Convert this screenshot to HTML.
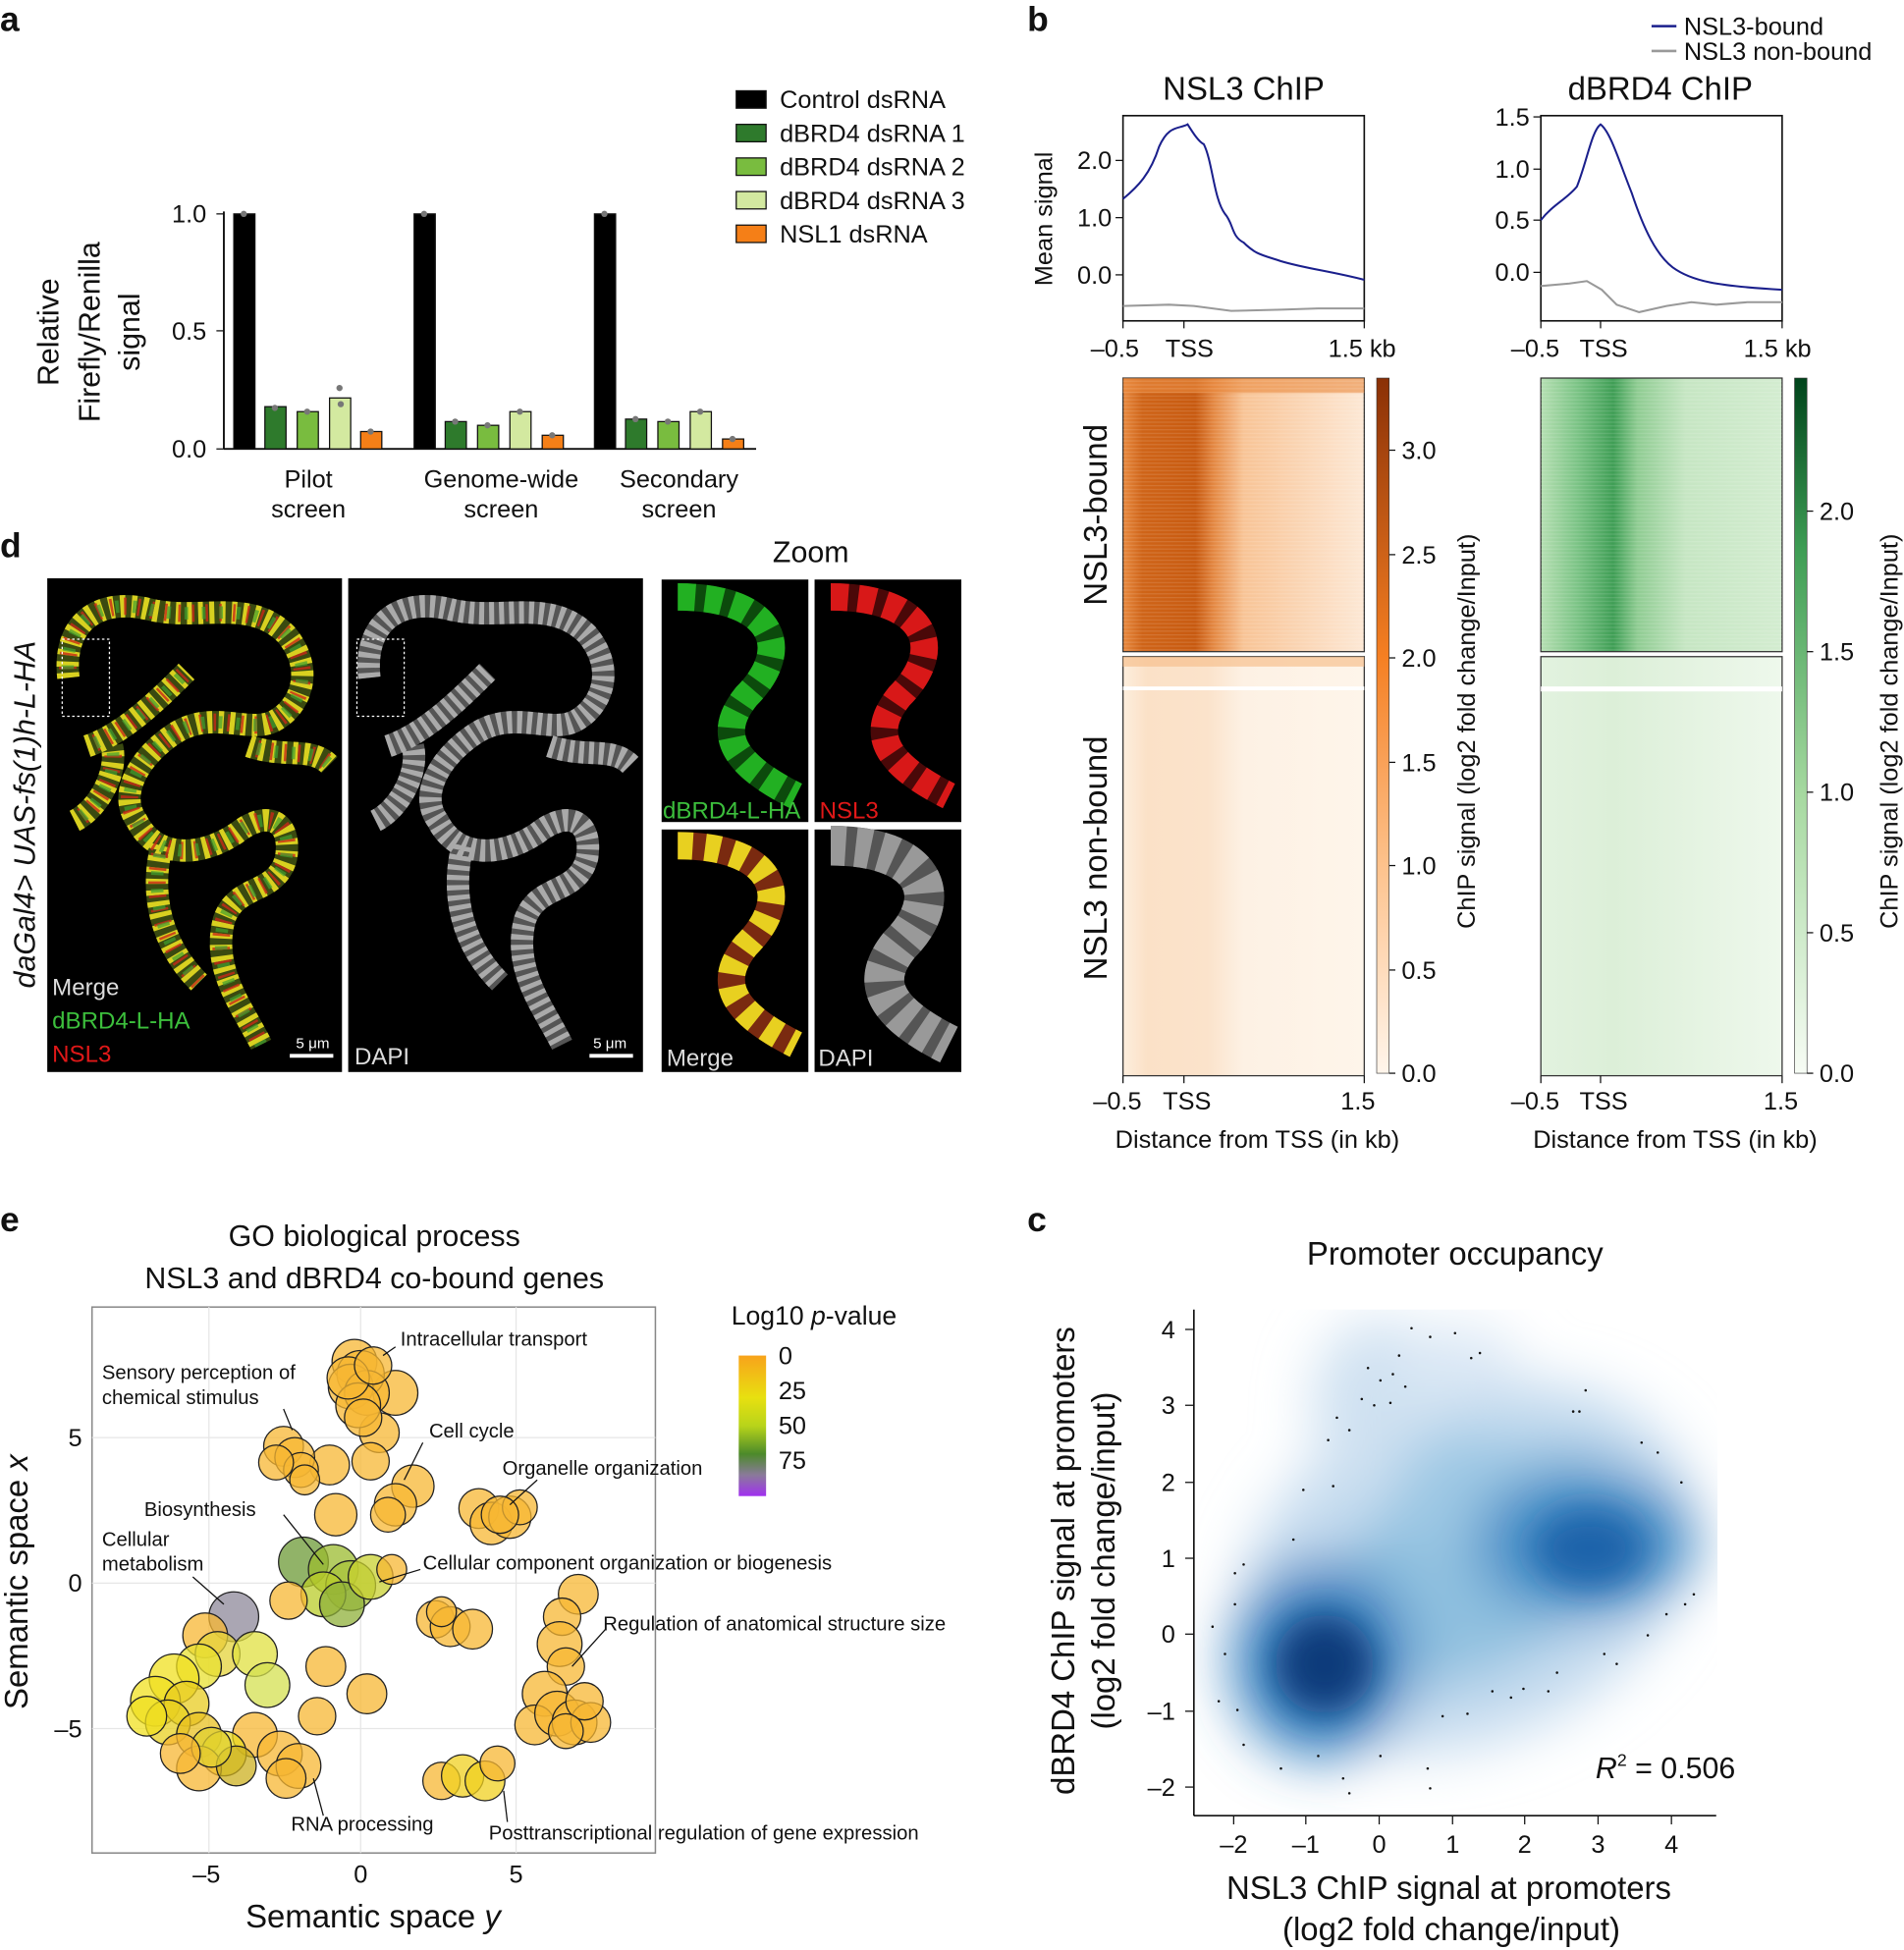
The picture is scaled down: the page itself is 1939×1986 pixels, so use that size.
<!DOCTYPE html>
<html><head><meta charset="utf-8"><style>
html,body{margin:0;padding:0;background:#fff}
svg{display:block}
text{font-family:"Liberation Sans",Arial,sans-serif;fill:#111}
</style></head><body>
<svg width="1939" height="1986" viewBox="0 0 1531 1568" preserveAspectRatio="none" xmlns="http://www.w3.org/2000/svg">
<defs>
<path id="chrA" d="M55,545 C50,500 80,480 120,490 C160,500 200,480 230,510 C255,540 240,570 220,580 C200,590 170,570 140,590 C110,610 95,640 110,660 C125,690 160,690 190,670 C215,650 235,660 230,690 C222,720 190,710 180,740 C170,780 195,810 210,840 M70,600 C100,590 130,560 150,540 M60,660 C80,650 95,620 90,600 M130,680 C120,720 130,760 160,790 M200,600 C230,610 250,600 265,615"/>
<path id="zp" d="M13,14 C88,14 108,54 68,94 C48,119 48,144 108,174"/>
<linearGradient id="orTop" x1="0" x2="1" y1="0" y2="0">
<stop offset="0" stop-color="#e88a40"/><stop offset="0.08" stop-color="#cf6418"/><stop offset="0.3" stop-color="#c85a10"/><stop offset="0.38" stop-color="#e58a45"/><stop offset="0.5" stop-color="#f8c496"/><stop offset="1" stop-color="#fde8d5"/></linearGradient>
<linearGradient id="orBot" x1="0" x2="1" y1="0" y2="0">
<stop offset="0" stop-color="#fdeedd"/><stop offset="0.1" stop-color="#fbe1c7"/><stop offset="0.35" stop-color="#fbe3cb"/><stop offset="0.5" stop-color="#fdf1e4"/><stop offset="1" stop-color="#fef5ea"/></linearGradient>
<linearGradient id="grTop" x1="0" x2="1" y1="0" y2="0">
<stop offset="0" stop-color="#b5dfb2"/><stop offset="0.15" stop-color="#7cc486"/><stop offset="0.3" stop-color="#3f9e55"/><stop offset="0.4" stop-color="#8fcc92"/><stop offset="0.6" stop-color="#c6e6c3"/><stop offset="1" stop-color="#d3ecd0"/></linearGradient>
<linearGradient id="grBot" x1="0" x2="1" y1="0" y2="0">
<stop offset="0" stop-color="#e2f2df"/><stop offset="0.3" stop-color="#dcefd8"/><stop offset="1" stop-color="#eef8ec"/></linearGradient>
<linearGradient id="orBar" x1="0" x2="0" y1="1" y2="0">
<stop offset="0" stop-color="#fff5eb"/><stop offset="0.3" stop-color="#fdc28c"/><stop offset="0.6" stop-color="#f57f22"/><stop offset="1" stop-color="#8a3006"/></linearGradient>
<linearGradient id="grBar" x1="0" x2="0" y1="1" y2="0">
<stop offset="0" stop-color="#f7fcf5"/><stop offset="0.4" stop-color="#a6d9a0"/><stop offset="0.75" stop-color="#3f9e55"/><stop offset="1" stop-color="#00441b"/></linearGradient>
<linearGradient id="pBar" x1="0" x2="0" y1="0" y2="1">
<stop offset="0" stop-color="#f8a31b"/><stop offset="0.3" stop-color="#e8e010"/><stop offset="0.5" stop-color="#b8d41a"/><stop offset="0.7" stop-color="#4c8a2a"/><stop offset="0.85" stop-color="#8a7a9a"/><stop offset="1" stop-color="#a030f0"/></linearGradient>
<filter id="blur" x="-30%" y="-30%" width="160%" height="160%"><feGaussianBlur stdDeviation="22"/></filter>
<filter id="blur2" x="-50%" y="-50%" width="200%" height="200%"><feGaussianBlur stdDeviation="14"/></filter>
<pattern id="rows" width="4" height="3" patternUnits="userSpaceOnUse"><rect width="200" height="1" fill="#fff" opacity="0.12"/></pattern>
<clipPath id="cclip"><rect x="961" y="1053" width="420" height="406"/></clipPath>
</defs>

<g font-weight="bold" font-size="28">
<text x="0" y="25">a</text><text x="826" y="25">b</text><text x="0" y="448">d</text><text x="0" y="990">e</text><text x="826" y="990">c</text></g>

<!-- Panel a -->
<g font-size="20">
<line x1="180" y1="170" x2="180" y2="361" stroke="#111" stroke-width="1.5"/>
<line x1="180" y1="361" x2="608" y2="361" stroke="#111" stroke-width="1.5"/>
<line x1="174" y1="172" x2="180" y2="172" stroke="#111"/><line x1="174" y1="266" x2="180" y2="266" stroke="#111"/><line x1="174" y1="361" x2="180" y2="361" stroke="#111"/>
<text x="166" y="179" text-anchor="end">1.0</text><text x="166" y="273" text-anchor="end">0.5</text><text x="166" y="368" text-anchor="end">0.0</text>
<g font-size="24" text-anchor="middle">
<text transform="translate(47,267) rotate(-90)">Relative</text>
<text transform="translate(80,267) rotate(-90)">Firefly/Renilla</text>
<text transform="translate(112,267) rotate(-90)">signal</text></g>
<g stroke="#111" stroke-width="1">
<rect x="188" y="172" width="17" height="189" fill="#000"/>
<rect x="213" y="327" width="17" height="34" fill="#2e7a2c"/>
<rect x="239" y="331" width="17" height="30" fill="#79bc3f"/>
<rect x="265" y="320" width="17" height="41" fill="#d3e9a0"/>
<rect x="290" y="347" width="17" height="14" fill="#f57f17"/>
<rect x="333" y="172" width="17" height="189" fill="#000"/>
<rect x="358" y="339" width="17" height="22" fill="#2e7a2c"/>
<rect x="384" y="342" width="17" height="19" fill="#79bc3f"/>
<rect x="410" y="331" width="17" height="30" fill="#d3e9a0"/>
<rect x="436" y="350" width="17" height="11" fill="#f57f17"/>
<rect x="478" y="172" width="17" height="189" fill="#000"/>
<rect x="503" y="337" width="17" height="24" fill="#2e7a2c"/>
<rect x="529" y="339" width="17" height="22" fill="#79bc3f"/>
<rect x="555" y="331" width="17" height="30" fill="#d3e9a0"/>
<rect x="581" y="353" width="17" height="8" fill="#f57f17"/></g>
<g fill="#777"><circle cx="196" cy="172" r="2.5"/><circle cx="221" cy="328" r="2.5"/><circle cx="247" cy="331" r="2.5"/><circle cx="273" cy="312" r="2.5"/><circle cx="274" cy="325" r="2.5"/><circle cx="298" cy="347" r="2.5"/>
<circle cx="341" cy="172" r="2.5"/><circle cx="366" cy="339" r="2.5"/><circle cx="392" cy="342" r="2.5"/><circle cx="418" cy="331" r="2.5"/><circle cx="444" cy="350" r="2.5"/>
<circle cx="486" cy="172" r="2.5"/><circle cx="511" cy="337" r="2.5"/><circle cx="537" cy="339" r="2.5"/><circle cx="563" cy="331" r="2.5"/><circle cx="589" cy="353" r="2.5"/></g>
<g text-anchor="middle"><text x="248" y="392">Pilot</text><text x="248" y="416">screen</text>
<text x="403" y="392">Genome-wide</text><text x="403" y="416">screen</text>
<text x="546" y="392">Secondary</text><text x="546" y="416">screen</text></g>
<g stroke="#111" stroke-width="1"><rect x="592" y="73" width="24" height="14" fill="#000"/><rect x="592" y="100" width="24" height="14" fill="#2e7a2c"/><rect x="592" y="127" width="24" height="14" fill="#79bc3f"/><rect x="592" y="154" width="24" height="14" fill="#d3e9a0"/><rect x="592" y="181" width="24" height="14" fill="#f57f17"/></g>
<text x="627" y="87">Control dsRNA</text><text x="627" y="114">dBRD4 dsRNA 1</text><text x="627" y="141">dBRD4 dsRNA 2</text><text x="627" y="168">dBRD4 dsRNA 3</text><text x="627" y="195">NSL1 dsRNA</text>
</g>

<!-- Panel b top -->
<g font-size="20">
<line x1="1328" y1="21" x2="1348" y2="21" stroke="#1a1f8c" stroke-width="2"/><text x="1354" y="28">NSL3-bound</text>
<line x1="1328" y1="41" x2="1348" y2="41" stroke="#999" stroke-width="2"/><text x="1354" y="48">NSL3 non-bound</text>
<text x="1000" y="80" font-size="26" text-anchor="middle">NSL3 ChIP</text>
<text x="1335" y="80" font-size="26" text-anchor="middle">dBRD4 ChIP</text>
<text transform="translate(846,176) rotate(-90)" text-anchor="middle">Mean signal</text>
<rect x="903" y="93" width="194" height="165" fill="none" stroke="#111" stroke-width="1.3"/>
<rect x="1239" y="93" width="194" height="165" fill="none" stroke="#111" stroke-width="1.3"/>
<g stroke="#111"><line x1="897" y1="129" x2="903" y2="129"/><line x1="897" y1="175" x2="903" y2="175"/><line x1="897" y1="221" x2="903" y2="221"/>
<line x1="1233" y1="94" x2="1239" y2="94"/><line x1="1233" y1="136" x2="1239" y2="136"/><line x1="1233" y1="177" x2="1239" y2="177"/><line x1="1233" y1="219" x2="1239" y2="219"/>
<line x1="903" y1="258" x2="903" y2="264"/><line x1="952" y1="258" x2="952" y2="264"/><line x1="1097" y1="258" x2="1097" y2="264"/>
<line x1="1239" y1="258" x2="1239" y2="264"/><line x1="1287" y1="258" x2="1287" y2="264"/><line x1="1433" y1="258" x2="1433" y2="264"/></g>
<g text-anchor="end"><text x="894" y="136">2.0</text><text x="894" y="182">1.0</text><text x="894" y="228">0.0</text>
<text x="1230" y="101">1.5</text><text x="1230" y="143">1.0</text><text x="1230" y="184">0.5</text><text x="1230" y="226">0.0</text></g>
<text x="877" y="287">–0.5</text><text x="937" y="287">TSS</text><text x="1068" y="287">1.5 kb</text>
<text x="1215" y="287">–0.5</text><text x="1270" y="287">TSS</text><text x="1402" y="287">1.5 kb</text>
<path d="M903,160 C915,150 925,140 932,118 C940,100 948,104 955,100 C960,108 964,114 968,116 C975,130 976,160 985,172 C992,180 990,190 1000,195 C1010,205 1015,205 1030,210 C1050,216 1070,218 1097,225" fill="none" stroke="#1a1f8c" stroke-width="1.6"/>
<path d="M903,246 L940,245 L960,246 L990,250 L1030,249 L1060,248 L1097,248" fill="none" stroke="#999" stroke-width="1.6"/>
<path d="M1239,177 C1248,165 1260,160 1268,150 C1276,130 1280,105 1287,100 C1295,106 1302,130 1312,155 C1322,185 1332,205 1345,215 C1360,226 1380,230 1433,233" fill="none" stroke="#1a1f8c" stroke-width="1.6"/>
<path d="M1239,230 L1262,228 L1276,226 L1288,233 L1300,245 L1318,251 L1340,246 L1360,243 L1380,245 L1405,243 L1433,243" fill="none" stroke="#999" stroke-width="1.6"/>
</g>

<!-- heatmaps -->
<rect x="903" y="304" width="194" height="220" fill="url(#orTop)" stroke="#333"/>
<rect x="903" y="304" width="194" height="12" fill="#e98a3f" opacity="0.6"/>
<rect x="903" y="304" width="194" height="220" fill="url(#rows)"/>
<rect x="903" y="528" width="194" height="337" fill="url(#orBot)" stroke="#333"/>
<rect x="903" y="528" width="194" height="8" fill="#f6c08f" opacity="0.7"/>
<rect x="903" y="552" width="194" height="3" fill="#fff"/>
<rect x="1239" y="304" width="194" height="220" fill="url(#grTop)" stroke="#333"/>
<rect x="1239" y="304" width="194" height="220" fill="url(#rows)"/>
<rect x="1239" y="528" width="194" height="337" fill="url(#grBot)" stroke="#333"/>
<rect x="1239" y="552" width="194" height="4" fill="#fff"/>
<rect x="1107" y="304" width="10" height="559" fill="url(#orBar)" stroke="#333" stroke-width="0.5"/>
<rect x="1443" y="304" width="10" height="559" fill="url(#grBar)" stroke="#333" stroke-width="0.5"/>
<g font-size="20">
<g stroke="#111"><line x1="1117" y1="362" x2="1122" y2="362"/><line x1="1117" y1="446" x2="1122" y2="446"/><line x1="1117" y1="529" x2="1122" y2="529"/><line x1="1117" y1="613" x2="1122" y2="613"/><line x1="1117" y1="696" x2="1122" y2="696"/><line x1="1117" y1="780" x2="1122" y2="780"/><line x1="1117" y1="863" x2="1122" y2="863"/>
<line x1="1453" y1="411" x2="1458" y2="411"/><line x1="1453" y1="524" x2="1458" y2="524"/><line x1="1453" y1="637" x2="1458" y2="637"/><line x1="1453" y1="750" x2="1458" y2="750"/><line x1="1453" y1="863" x2="1458" y2="863"/>
<line x1="903" y1="865" x2="903" y2="871"/><line x1="952" y1="865" x2="952" y2="871"/><line x1="1097" y1="865" x2="1097" y2="871"/>
<line x1="1239" y1="865" x2="1239" y2="871"/><line x1="1287" y1="865" x2="1287" y2="871"/><line x1="1433" y1="865" x2="1433" y2="871"/></g>
<text x="1127" y="369">3.0</text><text x="1127" y="453">2.5</text><text x="1127" y="536">2.0</text><text x="1127" y="620">1.5</text><text x="1127" y="703">1.0</text><text x="1127" y="787">0.5</text><text x="1127" y="870">0.0</text>
<text x="1463" y="418">2.0</text><text x="1463" y="531">1.5</text><text x="1463" y="644">1.0</text><text x="1463" y="757">0.5</text><text x="1463" y="870">0.0</text>
<text transform="translate(1186,588) rotate(-90)" text-anchor="middle">ChIP signal (log2 fold change/Input)</text>
<text transform="translate(1526,588) rotate(-90)" text-anchor="middle">ChIP signal (log2 fold change/Input)</text>
<text transform="translate(890,414) rotate(-90)" text-anchor="middle" font-size="26">NSL3-bound</text>
<text transform="translate(890,690) rotate(-90)" text-anchor="middle" font-size="26">NSL3 non-bound</text>
<text x="879" y="892">–0.5</text><text x="935" y="892">TSS</text><text x="1078" y="892">1.5</text>
<text x="1215" y="892">–0.5</text><text x="1270" y="892">TSS</text><text x="1418" y="892">1.5</text>
<text x="1011" y="923" text-anchor="middle">Distance from TSS (in kb)</text>
<text x="1347" y="923" text-anchor="middle">Distance from TSS (in kb)</text>
</g>

<!-- Panel d -->
<rect x="38" y="465" width="237" height="397" fill="#000"/>
<rect x="280" y="465" width="237" height="397" fill="#000"/>
<rect x="532" y="466" width="118" height="195" fill="#000"/>
<rect x="655" y="466" width="118" height="195" fill="#000"/>
<rect x="532" y="667" width="118" height="195" fill="#000"/>
<rect x="655" y="667" width="118" height="195" fill="#000"/>
<g fill="none">
<use href="#chrA" stroke="#3a4a10" stroke-width="18"/>
<use href="#chrA" stroke="#d8d020" stroke-width="18" stroke-dasharray="4 5"/>
<use href="#chrA" stroke="#c82818" stroke-width="14" stroke-dasharray="2 9" stroke-dashoffset="4" opacity="0.8"/>
<use href="#chrA" stroke="#40a030" stroke-width="10" stroke-dasharray="3 11" stroke-dashoffset="7" opacity="0.7"/>
</g>
<g fill="none" transform="translate(242,0)">
<use href="#chrA" stroke="#555" stroke-width="18"/>
<use href="#chrA" stroke="#aaa" stroke-width="18" stroke-dasharray="4 4"/>
</g>
<rect x="50" y="514" width="38" height="62" fill="none" stroke="#fff" stroke-dasharray="2 2"/>
<rect x="287" y="514" width="38" height="62" fill="none" stroke="#fff" stroke-dasharray="2 2"/>
<g fill="none" stroke-width="22">
<g transform="translate(532,466)"><use href="#zp" stroke="#0c4a0c"/><use href="#zp" stroke="#22b022" stroke-dasharray="14 8"/></g>
<g transform="translate(655,466)"><use href="#zp" stroke="#4a0808"/><use href="#zp" stroke="#d81818" stroke-dasharray="14 8"/></g>
<g transform="translate(532,666)"><use href="#zp" stroke="#7a2a10"/><use href="#zp" stroke="#e8d020" stroke-dasharray="12 10"/></g>
<g transform="translate(655,666)" stroke-width="32"><use href="#zp" stroke="#555"/><use href="#zp" stroke="#999" stroke-dasharray="12 8"/></g>
</g>
<g font-size="19">
<text x="42" y="800" style="fill:#ddd">Merge</text><text x="42" y="827" style="fill:#3cbf3c">dBRD4-L-HA</text><text x="42" y="854" style="fill:#e01818">NSL3</text>
<text x="285" y="856" style="fill:#ddd">DAPI</text>
<text x="533" y="658" style="fill:#3cbf3c">dBRD4-L-HA</text><text x="659" y="658" style="fill:#e01818">NSL3</text>
<text x="536" y="857" style="fill:#ddd">Merge</text><text x="658" y="857" style="fill:#ddd">DAPI</text>
<text x="238" y="843" font-size="12" style="fill:#fff">5 μm</text><text x="477" y="843" font-size="12" style="fill:#fff">5 μm</text>
<text x="652" y="452" font-size="24" text-anchor="middle">Zoom</text>
<text transform="translate(28,655) rotate(-90)" text-anchor="middle" font-size="24" font-style="italic">daGal4&gt; UAS-fs(1)h-L-HA</text></g>
<line x1="233" y1="849" x2="268" y2="849" stroke="#fff" stroke-width="3"/>
<line x1="474" y1="849" x2="509" y2="849" stroke="#fff" stroke-width="3"/>

<!-- Panel e -->
<g font-size="24" text-anchor="middle"><text x="301" y="1002">GO biological process</text><text x="301" y="1036">NSL3 and dBRD4 co-bound genes</text></g>
<rect x="74" y="1051" width="453" height="439" fill="#fff" stroke="#888" stroke-width="1.2"/>
<g stroke="#e6e6e6" stroke-width="1"><line x1="168" y1="1051" x2="168" y2="1490"/><line x1="290" y1="1051" x2="290" y2="1490"/><line x1="415" y1="1051" x2="415" y2="1490"/><line x1="74" y1="1156" x2="527" y2="1156"/><line x1="74" y1="1273" x2="527" y2="1273"/><line x1="74" y1="1390" x2="527" y2="1390"/></g>
<g stroke="#222" stroke-width="1" fill="#f7b733" fill-opacity="0.75">
<circle cx="318" cy="1120" r="18"/><circle cx="305" cy="1152" r="16"/><circle cx="265" cy="1178" r="16"/><circle cx="298" cy="1175" r="15"/>
<circle cx="285" cy="1095" r="18"/><circle cx="290" cy="1105" r="19"/><circle cx="282" cy="1115" r="18"/><circle cx="295" cy="1120" r="18"/><circle cx="288" cy="1130" r="18"/><circle cx="280" cy="1108" r="17"/><circle cx="300" cy="1098" r="15"/><circle cx="292" cy="1140" r="15"/>
<circle cx="228" cy="1163" r="16"/><circle cx="237" cy="1172" r="16"/><circle cx="242" cy="1182" r="14"/><circle cx="222" cy="1176" r="14"/><circle cx="245" cy="1190" r="12"/>
<circle cx="332" cy="1195" r="17"/><circle cx="318" cy="1210" r="17"/><circle cx="312" cy="1218" r="14"/><circle cx="270" cy="1218" r="17"/>
<circle cx="385" cy="1213" r="16"/><circle cx="395" cy="1225" r="17"/><circle cx="410" cy="1220" r="17"/><circle cx="418" cy="1212" r="14"/><circle cx="402" cy="1218" r="15"/>
<circle cx="244" cy="1256" r="20" fill="#6c9a35"/><circle cx="268" cy="1262" r="20" fill="#9bbb2f"/><circle cx="282" cy="1275" r="20" fill="#a9c43a"/><circle cx="260" cy="1282" r="18" fill="#b9cc2a"/><circle cx="275" cy="1290" r="18" fill="#8fb03a"/><circle cx="298" cy="1268" r="18" fill="#c8d030"/><circle cx="315" cy="1262" r="12"/>
<circle cx="232" cy="1287" r="15"/><circle cx="188" cy="1300" r="20" fill="#8e889a"/>
<circle cx="165" cy="1315" r="18"/><circle cx="175" cy="1330" r="18" fill="#e4d33a"/><circle cx="160" cy="1340" r="18" fill="#e8e030"/><circle cx="205" cy="1330" r="18" fill="#e0e040"/><circle cx="215" cy="1355" r="18" fill="#d4e050"/><circle cx="140" cy="1350" r="20" fill="#f0e020"/><circle cx="125" cy="1368" r="20" fill="#f0e020"/><circle cx="150" cy="1370" r="18" fill="#e8cc20"/><circle cx="135" cy="1385" r="18" fill="#e8d020"/><circle cx="160" cy="1395" r="18" fill="#e8c020"/><circle cx="205" cy="1395" r="18"/><circle cx="180" cy="1410" r="18" fill="#e8d820"/><circle cx="160" cy="1422" r="18"/><circle cx="190" cy="1420" r="16" fill="#ccb020"/><circle cx="225" cy="1410" r="18"/><circle cx="240" cy="1420" r="18"/><circle cx="230" cy="1430" r="16"/><circle cx="255" cy="1380" r="15"/>
<circle cx="170" cy="1405" r="16" fill="#e0d030"/><circle cx="145" cy="1410" r="16"/><circle cx="118" cy="1380" r="16" fill="#f0e020"/>
<circle cx="262" cy="1340" r="16"/><circle cx="295" cy="1362" r="16"/>
<circle cx="350" cy="1302" r="15"/><circle cx="362" cy="1308" r="16"/><circle cx="380" cy="1310" r="16"/><circle cx="355" cy="1296" r="12"/>
<circle cx="465" cy="1282" r="16"/><circle cx="452" cy="1300" r="15"/><circle cx="450" cy="1322" r="18"/><circle cx="455" cy="1340" r="15"/><circle cx="438" cy="1362" r="18"/><circle cx="430" cy="1387" r="16"/><circle cx="448" cy="1378" r="18"/><circle cx="462" cy="1385" r="18"/><circle cx="475" cy="1385" r="16"/><circle cx="470" cy="1368" r="15"/><circle cx="455" cy="1392" r="14"/>
<circle cx="355" cy="1432" r="15"/><circle cx="372" cy="1428" r="17" fill="#f0d020"/><circle cx="390" cy="1432" r="16" fill="#f0d020"/><circle cx="400" cy="1418" r="14"/>
</g>
<g stroke="#111" stroke-width="1"><line x1="308" y1="1090" x2="318" y2="1083"/><line x1="228" y1="1133" x2="235" y2="1150"/><line x1="340" y1="1160" x2="325" y2="1190"/><line x1="432" y1="1190" x2="410" y2="1210"/><line x1="228" y1="1218" x2="260" y2="1258"/><line x1="155" y1="1268" x2="180" y2="1290"/><line x1="338" y1="1262" x2="305" y2="1272"/><line x1="487" y1="1310" x2="460" y2="1340"/><line x1="252" y1="1430" x2="260" y2="1460"/><line x1="405" y1="1440" x2="408" y2="1465"/></g>
<g font-size="16">
<text x="322" y="1082">Intracellular transport</text>
<text x="82" y="1109">Sensory perception of</text><text x="82" y="1129">chemical stimulus</text>
<text x="345" y="1156">Cell cycle</text><text x="404" y="1186">Organelle organization</text>
<text x="116" y="1219">Biosynthesis</text><text x="82" y="1243">Cellular</text><text x="82" y="1263">metabolism</text>
<text x="340" y="1262">Cellular component organization or biogenesis</text>
<text x="485" y="1311">Regulation of anatomical structure size</text>
<text x="234" y="1472">RNA processing</text><text x="393" y="1479">Posttranscriptional regulation of gene expression</text></g>
<g font-size="20" text-anchor="end"><text x="66" y="1163">5</text><text x="66" y="1280">0</text><text x="66" y="1397">–5</text></g>
<g font-size="20" text-anchor="middle"><text x="166" y="1514">–5</text><text x="290" y="1514">0</text><text x="415" y="1514">5</text></g>
<text x="300" y="1550" font-size="26" text-anchor="middle">Semantic space <tspan font-style="italic">y</tspan></text>
<text transform="translate(22,1272) rotate(-90)" font-size="26" text-anchor="middle">Semantic space <tspan font-style="italic">x</tspan></text>
<text x="588" y="1065" font-size="21">Log10 <tspan font-style="italic">p</tspan>-value</text>
<rect x="594" y="1090" width="22" height="113" fill="url(#pBar)"/>
<g font-size="20"><text x="626" y="1097">0</text><text x="626" y="1125">25</text><text x="626" y="1153">50</text><text x="626" y="1181">75</text></g>

<!-- Panel c -->
<text x="1170" y="1017" font-size="26" text-anchor="middle">Promoter occupancy</text>
<g clip-path="url(#cclip)">
<g filter="url(#blur)">
<ellipse cx="1180" cy="1260" rx="190" ry="140" fill="#c6dcef" transform="rotate(-25 1180 1260)"/>
<ellipse cx="1110" cy="1130" rx="55" ry="70" fill="#cfe1f1"/>
<ellipse cx="1170" cy="1095" rx="50" ry="30" fill="#dbe8f5"/>
<ellipse cx="1190" cy="1260" rx="140" ry="80" fill="#8fc0df" transform="rotate(-30 1190 1260)"/>
<ellipse cx="1180" cy="1200" rx="60" ry="50" fill="#9dc8e4"/>
<ellipse cx="1062" cy="1335" rx="72" ry="80" fill="#3d85c2"/>
<ellipse cx="1275" cy="1240" rx="90" ry="60" fill="#4a90c8"/>
</g>
<g filter="url(#blur2)">
<circle cx="1065" cy="1338" r="40" fill="#083a7a"/>
<ellipse cx="1278" cy="1245" rx="45" ry="32" fill="#1a64aa"/>
</g></g>
<g fill="#111">
<circle cx="1135" cy="1068" r="1"/><circle cx="1150" cy="1075" r="1"/><circle cx="1170" cy="1072" r="1"/><circle cx="1190" cy="1088" r="1"/><circle cx="1125" cy="1090" r="1"/><circle cx="1100" cy="1100" r="1"/><circle cx="1110" cy="1110" r="1"/><circle cx="1120" cy="1105" r="1"/><circle cx="1130" cy="1115" r="1"/><circle cx="1105" cy="1130" r="1"/><circle cx="1095" cy="1125" r="1"/><circle cx="1118" cy="1128" r="1"/><circle cx="1075" cy="1140" r="1"/><circle cx="1068" cy="1158" r="1"/><circle cx="1085" cy="1150" r="1"/><circle cx="1048" cy="1198" r="1"/><circle cx="1072" cy="1195" r="1"/><circle cx="1040" cy="1238" r="1"/><circle cx="1000" cy="1258" r="1"/><circle cx="993" cy="1265" r="1"/><circle cx="993" cy="1290" r="1"/><circle cx="975" cy="1308" r="1"/><circle cx="985" cy="1330" r="1"/><circle cx="980" cy="1368" r="1"/><circle cx="995" cy="1375" r="1"/><circle cx="1000" cy="1403" r="1"/><circle cx="1030" cy="1422" r="1"/><circle cx="1060" cy="1412" r="1"/><circle cx="1080" cy="1430" r="1"/><circle cx="1085" cy="1442" r="1"/><circle cx="1110" cy="1412" r="1"/><circle cx="1148" cy="1422" r="1"/><circle cx="1150" cy="1438" r="1"/><circle cx="1160" cy="1380" r="1"/><circle cx="1180" cy="1378" r="1"/><circle cx="1200" cy="1360" r="1"/><circle cx="1215" cy="1365" r="1"/><circle cx="1225" cy="1358" r="1"/><circle cx="1245" cy="1360" r="1"/><circle cx="1252" cy="1345" r="1"/><circle cx="1265" cy="1135" r="1"/><circle cx="1270" cy="1135" r="1"/><circle cx="1275" cy="1118" r="1"/><circle cx="1320" cy="1160" r="1"/><circle cx="1333" cy="1168" r="1"/><circle cx="1352" cy="1192" r="1"/><circle cx="1362" cy="1282" r="1"/><circle cx="1355" cy="1290" r="1"/><circle cx="1340" cy="1298" r="1"/><circle cx="1325" cy="1315" r="1"/><circle cx="1290" cy="1330" r="1"/><circle cx="1300" cy="1338" r="1"/><circle cx="1183" cy="1092" r="1"/></g>
<g stroke="#111" stroke-width="1.3"><line x1="960" y1="1053" x2="960" y2="1460"/><line x1="960" y1="1460" x2="1380" y2="1460"/></g>
<g stroke="#111"><line x1="953" y1="1069" x2="960" y2="1069"/><line x1="953" y1="1130" x2="960" y2="1130"/><line x1="953" y1="1192" x2="960" y2="1192"/><line x1="953" y1="1253" x2="960" y2="1253"/><line x1="953" y1="1314" x2="960" y2="1314"/><line x1="953" y1="1376" x2="960" y2="1376"/><line x1="953" y1="1437" x2="960" y2="1437"/>
<line x1="992" y1="1460" x2="992" y2="1467"/><line x1="1050" y1="1460" x2="1050" y2="1467"/><line x1="1109" y1="1460" x2="1109" y2="1467"/><line x1="1168" y1="1460" x2="1168" y2="1467"/><line x1="1226" y1="1460" x2="1226" y2="1467"/><line x1="1285" y1="1460" x2="1285" y2="1467"/><line x1="1344" y1="1460" x2="1344" y2="1467"/></g>
<g font-size="20" text-anchor="end"><text x="945" y="1076">4</text><text x="945" y="1137">3</text><text x="945" y="1199">2</text><text x="945" y="1260">1</text><text x="945" y="1321">0</text><text x="945" y="1383">–1</text><text x="945" y="1444">–2</text></g>
<g font-size="20" text-anchor="middle"><text x="992" y="1490">–2</text><text x="1050" y="1490">–1</text><text x="1109" y="1490">0</text><text x="1168" y="1490">1</text><text x="1226" y="1490">2</text><text x="1285" y="1490">3</text><text x="1344" y="1490">4</text></g>
<g font-size="26" text-anchor="middle"><text x="1165" y="1527">NSL3 ChIP signal at promoters</text><text x="1167" y="1560">(log2 fold change/input)</text>
<text transform="translate(864,1255) rotate(-90)">dBRD4 ChIP signal at promoters</text><text transform="translate(896,1255) rotate(-90)">(log2 fold change/input)</text></g>
<text x="1283" y="1430" font-size="24"><tspan font-style="italic">R</tspan><tspan font-size="14" dy="-10">2</tspan><tspan dy="10"> = 0.506</tspan></text>
</svg>
</body></html>
